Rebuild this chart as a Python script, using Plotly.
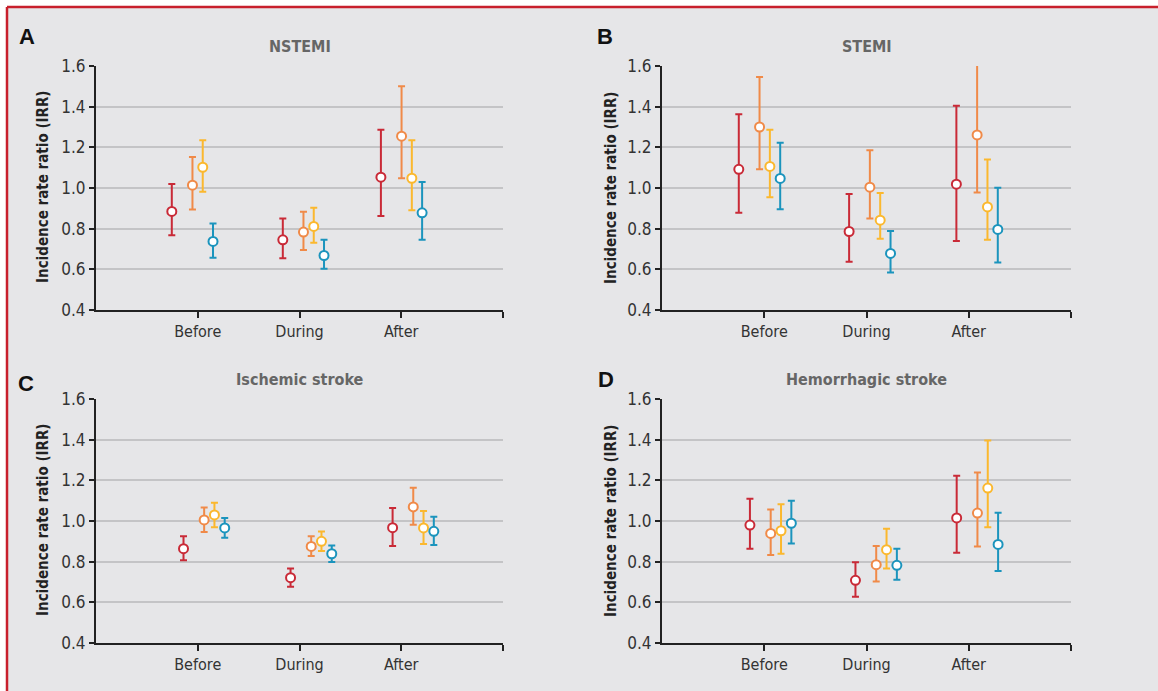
import plotly.graph_objects as go

# ---------------- data ----------------
GROUPS = ["Before", "During", "After"]
SERIES = ["s1", "s2", "s3", "s4"]
COLORS = ["#c92a37", "#f08a48", "#fbb82e", "#1b94bd"]

PANELS = ["A", "B", "C", "D"]
TITLES = ["NSTEMI", "STEMI", "Ischemic stroke", "Hemorrhagic stroke"]

# IRR point estimates [series][group]
A_IRR = [[0.885, 0.745, 1.053], [1.014, 0.783, 1.255], [1.102, 0.811, 1.048], [0.737, 0.668, 0.878]]
A_LO = [[0.768, 0.654, 0.862], [0.894, 0.695, 1.048], [0.981, 0.731, 0.891], [0.657, 0.603, 0.745]]
A_HI = [[1.020, 0.850, 1.286], [1.153, 0.883, 1.500], [1.235, 0.903, 1.235], [0.826, 0.745, 1.030]]

B_IRR = [[1.092, 0.786, 1.019], [1.300, 1.004, 1.261], [1.106, 0.842, 0.907], [1.047, 0.678, 0.796]]
B_LO = [[0.878, 0.637, 0.739], [1.092, 0.850, 0.978], [0.955, 0.750, 0.745], [0.896, 0.585, 0.634]]
B_HI = [[1.363, 0.971, 1.405], [1.546, 1.186, 1.634], [1.287, 0.976, 1.140], [1.223, 0.788, 1.001]]

C_IRR = [[0.864, 0.721, 0.967], [1.005, 0.875, 1.069], [1.030, 0.900, 0.966], [0.966, 0.839, 0.949]]
C_LO = [[0.807, 0.677, 0.877], [0.946, 0.828, 0.982], [0.969, 0.852, 0.887], [0.918, 0.798, 0.882]]
C_HI = [[0.925, 0.767, 1.064], [1.067, 0.925, 1.164], [1.090, 0.948, 1.049], [1.015, 0.879, 1.021]]

D_IRR = [[0.980, 0.708, 1.015], [0.939, 0.785, 1.039], [0.952, 0.859, 1.162], [0.989, 0.782, 0.885]]
D_LO = [[0.864, 0.628, 0.844], [0.833, 0.703, 0.875], [0.839, 0.767, 0.969], [0.889, 0.711, 0.754]]
D_HI = [[1.110, 0.797, 1.223], [1.057, 0.877, 1.238], [1.082, 0.962, 1.396], [1.100, 0.864, 1.041]]

DATA = [(A_IRR, A_LO, A_HI), (B_IRR, B_LO, B_HI), (C_IRR, C_LO, C_HI), (D_IRR, D_LO, D_HI)]

Y_TICKS = [0.4, 0.6, 0.8, 1.0, 1.2, 1.4, 1.6]
Y_LABEL = "Incidence rate ratio (IRR)"

# ---------------- layout helpers (dodge offsets, in category units) ----------------
FIRST_SHIFT = [[-0.255, -0.164, -0.200], [-0.249, -0.170, -0.121],
               [-0.140, -0.088, -0.085], [-0.140, -0.108, -0.118]]
SERIES_STEP = [0.0, 0.203, 0.304, 0.405]

W, H = 1158, 691
def px(x): return x / W
def py(y): return 1 - y / H

X_DOM = [(96, 503), (662, 1071), (96, 503), (662, 1071)]
Y_DOM = [(66, 310), (66, 310), (399, 643), (399, 643)]

NARROW = "Liberation Sans Narrow, Arial Narrow, DejaVu Sans Condensed, Liberation Sans, sans-serif"

fig = go.Figure()
for p in range(4):
    irr, lo, hi = DATA[p]
    ax = "" if p == 0 else str(p + 1)
    for s in range(4):
        xs = [g + 1 + FIRST_SHIFT[p][g] + SERIES_STEP[s] for g in range(3)]
        fig.add_trace(go.Scatter(
            x=xs, y=irr[s], mode="markers", xaxis="x" + ax, yaxis="y" + ax,
            showlegend=False, hoverinfo="skip", cliponaxis=False,
            marker=dict(symbol="circle", size=9, color="white",
                        line=dict(color=COLORS[s], width=2)),
            error_y=dict(type="data", symmetric=False,
                         array=[hi[s][g] - irr[s][g] for g in range(3)],
                         arrayminus=[irr[s][g] - lo[s][g] for g in range(3)],
                         color=COLORS[s], thickness=2, width=3.5),
        ))

layout = dict(
    width=W, height=H, margin=dict(l=0, r=0, t=0, b=0, autoexpand=False),
    paper_bgcolor="white", plot_bgcolor="white",
    font=dict(family=NARROW, color="#333333", size=16),
    showlegend=False,
)
shapes = [
    dict(type="rect", xref="paper", yref="paper", x0=px(8), x1=1, y0=0, y1=py(8),
         fillcolor="#e6e6e8", line=dict(width=0), layer="below"),
    dict(type="line", xref="paper", yref="paper", x0=px(7), x1=1, y0=py(7), y1=py(7),
         line=dict(color="#c8202c", width=2.5)),
    dict(type="line", xref="paper", yref="paper", x0=px(7), x1=px(7), y0=0, y1=py(7),
         line=dict(color="#c8202c", width=2.5)),
]
annotations = []
LETTER_POS = [(27, 37), (605, 37), (26, 383), (606, 379)]
TITLE_Y = [46, 46, 379, 379]
YLAB_X = [43, 611, 43, 611]

for p in range(4):
    ax = "" if p == 0 else str(p + 1)
    x0, x1 = X_DOM[p]
    y0, y1 = Y_DOM[p]
    layout["xaxis" + ax] = dict(
        domain=[px(x0), px(x1)], range=[0, 4], anchor="y" + ax,
        tickmode="array", tickvals=[1, 2, 3, 4], ticktext=GROUPS + [""],
        ticks="outside", ticklen=6, tickwidth=2, tickcolor="#222222",
        showline=True, linecolor="#222222", linewidth=2, showgrid=False,
        zeroline=False, fixedrange=True, automargin=False,
        tickfont=dict(family=NARROW, size=16, color="#333333"),
    )
    layout["yaxis" + ax] = dict(
        domain=[py(y1), py(y0)], range=[0.4, 1.6], anchor="x" + ax,
        tickmode="array", tickvals=Y_TICKS, ticktext=["%.1f" % v for v in Y_TICKS],
        ticks="outside", ticklen=5, tickwidth=2, tickcolor="#222222",
        showline=True, linecolor="#222222", linewidth=2,
        showgrid=True, gridcolor="#c4c4c6", gridwidth=2, zeroline=False,
        fixedrange=True, automargin=False,
        tickfont=dict(family=NARROW, size=17, color="#333333"),
    )
    annotations.append(dict(
        text="<b>%s</b>" % TITLES[p], xref="paper", yref="paper",
        x=px((x0 + x1) / 2), y=py(TITLE_Y[p]), showarrow=False,
        xanchor="center", yanchor="middle",
        font=dict(family=NARROW, size=16, color="#666666")))
    lx, ly = LETTER_POS[p]
    annotations.append(dict(
        text="<b>%s</b>" % PANELS[p], xref="paper", yref="paper",
        x=px(lx), y=py(ly), showarrow=False, xanchor="center", yanchor="middle",
        font=dict(family="Liberation Sans, Arial, sans-serif", size=22, color="#111111")))
    annotations.append(dict(
        text="<b>%s</b>" % Y_LABEL, xref="paper", yref="paper",
        x=px(YLAB_X[p]), y=py((y0 + y1) / 2 - 1), showarrow=False, textangle=-90,
        xanchor="center", yanchor="middle",
        font=dict(family=NARROW, size=15, color="#222222")))

layout["shapes"] = shapes
layout["annotations"] = annotations
fig.update_layout(**layout)
fig.write_html(
    "out.html",
    config={"displayModeBar": False, "staticPlot": True},
    post_script="document.body.style.margin='0';document.body.style.overflow='hidden';",
)
